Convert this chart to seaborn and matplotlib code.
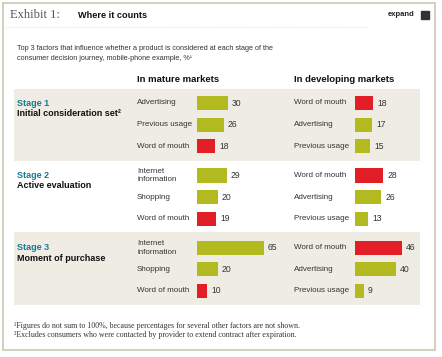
import matplotlib
matplotlib.use("Agg")
import matplotlib.pyplot as plt
import matplotlib.transforms as mtransforms
from matplotlib.patches import Rectangle
import numpy as np
import pandas as pd
import seaborn as sns

# ---------------- data ----------------
stage_names = ["Stage 1", "Stage 2", "Stage 3"]
stage_titles = ["Initial consideration set\u00b2", "Active evaluation", "Moment of purchase"]
mature_factors = [["Advertising", "Previous usage", "Word of mouth"],
                  ["Internet\ninformation", "Shopping", "Word of mouth"],
                  ["Internet\ninformation", "Shopping", "Word of mouth"]]
mature_values = [[30, 26, 18], [29, 20, 19], [65, 20, 10]]
developing_factors = [["Word of mouth", "Advertising", "Previous usage"],
                      ["Word of mouth", "Advertising", "Previous usage"],
                      ["Word of mouth", "Advertising", "Previous usage"]]
developing_values = [[18, 17, 15], [28, 26, 13], [46, 40, 9]]
column_headers = ["In mature markets", "In developing markets"]

GREEN = "#b3ba1f"
RED = "#e21f27"
BAND = "#efece3"
TEAL = "#1b7a93"
TXT = "#333333"

W, H = 442, 357
sns.set_theme(style="white")
plt.rcParams["font.family"] = ["Liberation Sans", "DejaVu Sans"]

fig = plt.figure(figsize=(W / 100, H / 100), dpi=100)
fig.patch.set_facecolor("white")

bg = fig.add_axes([0, 0, 1, 1], zorder=0)
bg.set_xlim(0, W)
bg.set_ylim(H, 0)
bg.axis("off")

# frame, header
bg.add_patch(Rectangle((3, 3), 432, 347, fill=False, ec="#d3cfbf", lw=1.4))
bg.plot([5, 368], [27, 27], ls=(0, (1, 1.5)), color="#d5d5d5", lw=0.6)
bg.text(10, 15.5, "Exhibit 1:", family=["Liberation Serif", "DejaVu Serif"],
        fontsize=9, color="#555555", va="center", ha="left")
bg.text(78, 15.5, "Where it counts", fontsize=6.6, fontweight="bold",
        color="#111111", va="center", ha="left")
bg.text(414, 14.5, "expand", fontsize=5.5, fontweight="bold", color="#222222",
        va="center", ha="right")
bg.add_patch(Rectangle((421, 11), 8, 8, color="#333333"))

bg.text(17, 48, "Top 3 factors that influence whether a product is considered at each stage of the",
        fontsize=5.2, color=TXT, va="center", ha="left")
bg.text(17, 58, "consumer decision journey, mobile-phone example, %\u00b9",
        fontsize=5.2, color=TXT, va="center", ha="left")

bg.text(137, 79, column_headers[0], fontsize=6.8, fontweight="bold", color="#111111",
        va="center", ha="left")
bg.text(294, 79, column_headers[1], fontsize=6.8, fontweight="bold", color="#111111",
        va="center", ha="left")

# shaded bands
bg.add_patch(Rectangle((14, 89), 406, 72, color=BAND, lw=0))
bg.add_patch(Rectangle((14, 232), 406, 73, color=BAND, lw=0))

# footnotes
serif = ["Liberation Serif", "DejaVu Serif"]
bg.text(14, 326, "\u00b9Figures do not sum to 100%, because percentages for several other factors are not shown.",
        family=serif, fontsize=5.7, color=TXT, va="center", ha="left")
bg.text(14, 335, "\u00b2Excludes consumers who were contacted by provider to extend contract after expiration.",
        family=serif, fontsize=5.7, color=TXT, va="center", ha="left")

# ---------------- bars ----------------
row0 = [103, 175.5, 247.7]
step = 21.6
px_per_unit = 1.025
axw = 82


def px_axes(x, y, w, h):
    return fig.add_axes([x / W, 1 - (y + h) / H, w / W, h / H], zorder=2)


for s in range(3):
    top = row0[s] - step / 2
    # stage labels
    bg.text(17, row0[s], stage_names[s], fontsize=6.5, fontweight="bold", color=TEAL,
            va="center", ha="left")
    bg.text(17, row0[s] + 10.5, stage_titles[s], fontsize=6.5, fontweight="bold",
            color="#111111", va="center", ha="left")
    for m, (facs_all, vals_all, x0, lx) in enumerate(
            [(mature_factors, mature_values, 197, 137),
             (developing_factors, developing_values, 354.5, 294)]):
        facs = facs_all[s]
        vals = vals_all[s]
        df = pd.DataFrame({"factor": facs, "value": vals})
        pal = {f: (RED if f == "Word of mouth" else GREEN) for f in facs}
        ax = px_axes(x0, top, axw, step * 3)
        ax.patch.set_alpha(0)
        sns.barplot(data=df, y="factor", x="value", hue="factor", order=facs,
                    hue_order=facs, palette=pal, dodge=False, legend=False,
                    width=0.65, saturation=1, linewidth=0, ax=ax)
        ax.set_xlim(0, axw / px_per_unit)
        ax.set_ylim(2.5, -0.5)
        for c in ax.containers:
            labs = [f"{v:.0f}" if np.isfinite(v) else "" for v in c.datavalues]
            ax.bar_label(c, labels=labs, padding=3, fontsize=6.2, color=TXT)
        ax.set_xticks([])
        ax.set_yticks([])
        ax.set_xlabel("")
        ax.set_ylabel("")
        for sp in ax.spines.values():
            sp.set_visible(False)
        tr = mtransforms.blended_transform_factory(fig.transFigure, ax.transData)
        for i, f in enumerate(facs):
            ax.text(lx / W, i, f, transform=tr, fontsize=5.8, color=TXT,
                    va="center", ha="left", linespacing=1.35)

fig.savefig("out.png", dpi=100)
